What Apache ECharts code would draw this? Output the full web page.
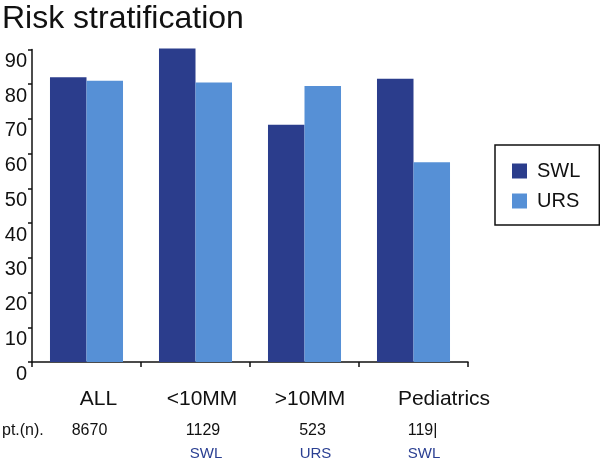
<!DOCTYPE html>
<html>
<head>
<meta charset="utf-8">
<script src="https://cdn.jsdelivr.net/npm/echarts@6/dist/echarts.min.js"></script>
<style>html,body{margin:0;padding:0;background:#fff}#c{width:600px;height:462px}</style>
</head>
<body>
<div id="c"></div>
<script>
const categories = ['ALL', '<10MM', '>10MM', 'Pediatrics'];
const swl = [82, 90.3, 68.3, 81.6];
const urs = [81, 80.5, 79.5, 57.5];
const patientCounts = ['8670', '1129', '523', '119|'];
const preferred = ['', 'SWL', 'URS', 'SWL'];
const yTicks = [0, 10, 20, 30, 40, 50, 60, 70, 80, 90];

const FONT = 'Liberation Sans, Arial, Helvetica, sans-serif';
const DARK = '#2b3d8c';
const LIGHT = '#5690d6';
// horizontal nudges (px) of the text rows relative to each category centre
const catShift = [12, 6.5, 5.5, 30.5];
const cntShift = [3, 7.5, 8, 9];
const prefShift = [0, 10.5, 11, 10.5];

const chart = echarts.init(document.getElementById('c'), null, {renderer: 'canvas'});

const rich = {};
catShift.forEach((s, i) => {
  rich['c' + i] = {fontSize: 21, fontFamily: FONT, color: '#111', padding: [0, 0, 0, s * 2]};
});

chart.setOption({
  animation: false,
  backgroundColor: '#fff',
  title: {
    text: 'Risk stratification',
    left: 2, top: 3, padding: 0,
    textStyle: {fontSize: 32, fontWeight: 'normal', fontFamily: FONT, color: '#111'}
  },
  legend: {
    orient: 'vertical',
    left: 495, top: 145,
    padding: [16, 19, 14, 17],
    itemWidth: 15, itemHeight: 15, itemGap: 10,
    borderColor: '#111', borderWidth: 1.5,
    icon: 'rect',
    textStyle: {fontSize: 20, fontFamily: FONT, color: '#111', padding: [0, 0, 0, 5]},
    data: ['SWL', 'URS']
  },
  grid: {left: 32, right: 132, top: 49.5, bottom: 100, containLabel: false},
  xAxis: {
    type: 'category',
    data: categories,
    axisLine: {lineStyle: {color: '#111', width: 1.5}},
    axisTick: {show: true, length: 5, lineStyle: {color: '#111', width: 1.5}},
    axisLabel: {
      margin: 27,
      formatter: (v, i) => '{c' + i + '|' + v + '}',
      rich: rich
    },
    splitLine: {show: false}
  },
  yAxis: {
    type: 'value',
    min: yTicks[0], max: yTicks[yTicks.length - 1], interval: 10,
    axisLine: {show: true, lineStyle: {color: '#111', width: 1.5}},
    axisTick: {show: true, length: 4, lineStyle: {color: '#111', width: 1.5}},
    axisLabel: {
      margin: 5, verticalAlign: 'top', padding: [2, 0, 0, 0],
      fontSize: 20, fontFamily: FONT, color: '#111'
    },
    splitLine: {show: false}
  },
  series: [
    {name: 'SWL', type: 'bar', data: swl, barWidth: '33.5%', barGap: '0%', clip: false,
     itemStyle: {color: DARK}},
    {name: 'URS', type: 'bar', data: urs, barWidth: '33.5%', barGap: '0%', clip: false,
     itemStyle: {color: LIGHT}}
  ]
});

const texts = [{
  type: 'text', left: 2, top: 423,
  style: {text: 'pt.(n).', fontSize: 16, fontFamily: FONT, fill: '#111'}
}];
categories.forEach((c, i) => {
  const x = chart.convertToPixel({xAxisIndex: 0}, c);
  texts.push({
    type: 'text', x: x + cntShift[i], y: 431,
    style: {text: patientCounts[i], fontSize: 16, fontFamily: FONT, fill: '#111',
            align: 'center', verticalAlign: 'middle'}
  });
  if (preferred[i]) {
    texts.push({
      type: 'text', x: x + prefShift[i], y: 454,
      style: {text: preferred[i], fontSize: 15, fontFamily: FONT, fill: '#2a3f92',
              align: 'center', verticalAlign: 'middle'}
    });
  }
});
chart.setOption({graphic: texts});
</script>
</body>
</html>
